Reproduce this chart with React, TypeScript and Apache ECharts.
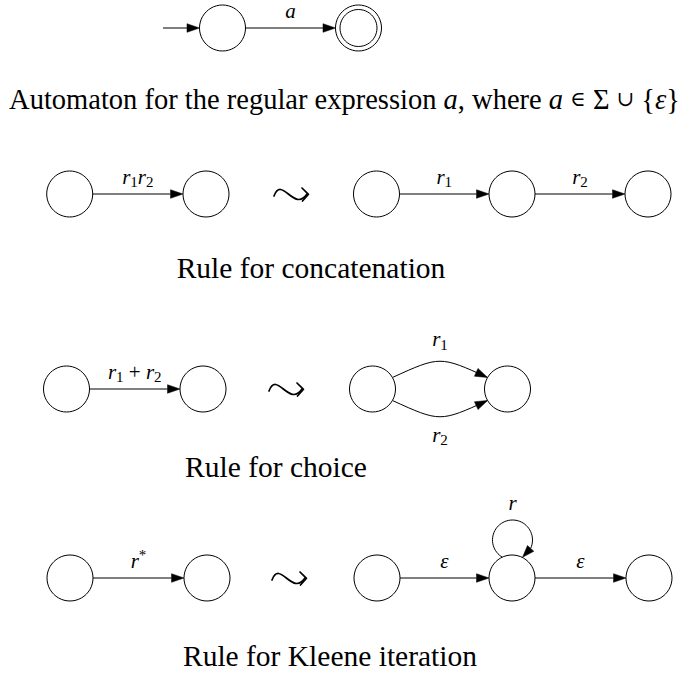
import React, { useEffect, useRef } from 'react';
import * as echarts from 'echarts';

// ---- states (automaton nodes) ----
const stateX = [222.5, 358.5, 69.7, 206, 376.5, 512, 648, 66.5, 203, 372.5, 507.5, 70, 207, 377, 512, 649];
const stateY = [28, 28, 194, 194, 194, 194, 194, 389, 389, 389, 389, 578, 578, 578, 578, 578];
const stateAccepting = [0, 1, 0, 0, 0, 0, 0, 0, 0, 0, 0, 0, 0, 0, 0, 0];

// ---- initial arrows ----
const initialFromX = [163];
const initialTo = [0];

// ---- transitions ----
const edgeFrom = [0, 2, 4, 5, 7, 9, 9, 11, 13, 14, 14];
const edgeTo = [1, 3, 5, 6, 8, 10, 10, 12, 14, 14, 15];
const edgeBend = [0, 0, 0, 0, 0, 1, -1, 0, 0, 0, 0];
const edgeLabels = [
  '{i|a}',
  '{i|r}{s|1}{i|r}{s|2}',
  '{i|r}{s|1}',
  '{i|r}{s|2}',
  '{i|r}{s|1}{n| + }{i|r}{s|2}',
  '{i|r}{s|1}',
  '{i|r}{s|2}',
  '{i|r}{p|*}',
  '{i|ε}',
  '{i|r}',
  '{i|ε}',
];

// ---- "leads to" symbols ----
const leadstoX = [292, 287, 290];
const leadstoY = [194, 389, 578];

// ---- captions ----
const captionTexts = [
  'Automaton for the regular expression {ci|a}, where {ci|a} {m|∈} Σ {m|∪} {{ci|ε}}',
  'Rule for concatenation',
  'Rule for choice',
  'Rule for Kleene iteration',
];
const captionX = [344.5, 311, 276, 330];
const captionBaseline = [109, 278, 477, 666];
const captionSize = [28.5, 29.5, 29.5, 29.5];

const SERIF = '"Liberation Serif", "Times New Roman", "DejaVu Serif", serif';
const R = 23;
const AL = 12.5;
const AW = 4.3;
const INK = '#000';
const LABEL_FS = 21;

const labelRich = {
  i: { fontFamily: SERIF, fontStyle: 'italic', fontSize: LABEL_FS, lineHeight: 26, fill: INK },
  n: { fontFamily: SERIF, fontSize: LABEL_FS, lineHeight: 26, fill: INK },
  s: { fontFamily: SERIF, fontSize: 15, lineHeight: 15, verticalAlign: 'bottom', fill: INK },
  p: { fontFamily: SERIF, fontSize: 15, lineHeight: 15, verticalAlign: 'top', fill: INK },
};

function arrowHead(base: number[], tip: number[]) {
  const dx = tip[0] - base[0];
  const dy = tip[1] - base[1];
  const l = Math.hypot(dx, dy) || 1;
  const ux = dx / l, uy = dy / l;
  const nx = -uy, ny = ux;
  return {
    type: 'polygon',
    shape: {
      points: [
        [tip[0], tip[1]],
        [base[0] + nx * AW, base[1] + ny * AW],
        [base[0] - nx * AW, base[1] - ny * AW],
      ],
    },
    style: { fill: INK, stroke: INK, lineWidth: 0.5 },
  };
}

function labelEl(text: string, x: number, baseline: number) {
  return {
    type: 'text',
    style: {
      text,
      x,
      y: baseline - 0.34 * LABEL_FS,
      align: 'center',
      verticalAlign: 'middle',
      fontFamily: SERIF,
      fontSize: LABEL_FS,
      fill: INK,
      rich: labelRich,
    },
  };
}

const lineStyle = { stroke: INK, lineWidth: 1, fill: 'none' };

export default function App() {
  const ref = useRef<HTMLDivElement>(null);
  useEffect(() => {
    if (!ref.current) return;
    const chart = echarts.init(ref.current, undefined, { renderer: 'svg' });

    const option: any = {
      animation: false,
      backgroundColor: '#fff',
      grid: { left: 0, right: 0, top: 0, bottom: 0 },
      xAxis: { type: 'value', min: 0, max: 688, show: false },
      yAxis: { type: 'value', min: 0, max: 679, inverse: true, show: false },
      series: [
        {
          name: 'initial',
          type: 'custom',
          silent: true,
          z: 2,
          data: initialTo.map((t, i) => [initialFromX[i], stateY[t], i]),
          renderItem: (_p: any, api: any) => {
            const i = api.value(2);
            const t = initialTo[i];
            const s = api.coord([initialFromX[i], stateY[t]]);
            const c = api.coord([stateX[t], stateY[t]]);
            const tip = [c[0] - R, c[1]];
            const base = [tip[0] - AL, tip[1]];
            return {
              type: 'group',
              children: [
                { type: 'line', shape: { x1: s[0], y1: s[1], x2: base[0], y2: base[1] }, style: lineStyle },
                arrowHead(base, tip),
              ],
            };
          },
        },
        {
          name: 'transitions',
          type: 'custom',
          silent: true,
          z: 2,
          data: edgeFrom.map((f, i) => [stateX[f], stateY[f], i]),
          renderItem: (_p: any, api: any) => {
            const i = api.value(2);
            const f = edgeFrom[i], t = edgeTo[i], b = edgeBend[i];
            const p1 = api.coord([stateX[f], stateY[f]]);
            const p2 = api.coord([stateX[t], stateY[t]]);
            const children: any[] = [];
            let lx = 0, lb = 0;
            if (f === t) {
              const lr = 20;
              const lcx = p1[0] + 0.5, lcy = p1[1] - 38;
              const d = p1[1] - lcy;
              const a = (d * d + lr * lr - R * R) / (2 * d);
              const h = Math.sqrt(Math.max(lr * lr - a * a, 0));
              const thL = Math.atan2(a, -h);
              const thR = Math.atan2(a, h) + 2 * Math.PI;
              const thB = thR - (35 * Math.PI) / 180;
              const pts: number[][] = [];
              for (let k = 0; k <= 48; k++) {
                const th = thL + ((thB - thL) * k) / 48;
                pts.push([lcx + lr * Math.cos(th), lcy + lr * Math.sin(th)]);
              }
              children.push({ type: 'polyline', shape: { points: pts }, style: lineStyle });
              const tip = [lcx + lr * Math.cos(thR), lcy + lr * Math.sin(thR)];
              children.push(arrowHead(pts[pts.length - 1], tip));
              lx = lcx;
              lb = lcy - lr - 10;
            } else if (b === 0) {
              const dx = p2[0] - p1[0], dy = p2[1] - p1[1];
              const l = Math.hypot(dx, dy);
              const ux = dx / l, uy = dy / l;
              const st = [p1[0] + ux * R, p1[1] + uy * R];
              const tip = [p2[0] - ux * R, p2[1] - uy * R];
              const base = [tip[0] - ux * AL, tip[1] - uy * AL];
              children.push({ type: 'line', shape: { x1: st[0], y1: st[1], x2: base[0], y2: base[1] }, style: lineStyle });
              children.push(arrowHead(base, tip));
              lx = (st[0] + tip[0]) / 2;
              lb = (st[1] + tip[1]) / 2 - 10;
            } else {
              const ang = (30 * Math.PI) / 180;
              const tng = Math.tan((24.5 * Math.PI) / 180);
              const P0 = [p1[0] + R * Math.cos(ang), p1[1] - b * R * Math.sin(ang)];
              const P3 = [p2[0] - R * Math.cos(ang), p2[1] - b * R * Math.sin(ang)];
              const k = 0.5 * (P3[0] - P0[0]);
              const C1 = [P0[0] + k, P0[1] - b * k * tng];
              const C2 = [P3[0] - k, P3[1] - b * k * tng];
              children.push({
                type: 'bezierCurve',
                shape: { x1: P0[0], y1: P0[1], cpx1: C1[0], cpy1: C1[1], cpx2: C2[0], cpy2: C2[1], x2: P3[0], y2: P3[1] },
                style: lineStyle,
              });
              const dx = P3[0] - C2[0], dy = P3[1] - C2[1];
              const l = Math.hypot(dx, dy);
              const base = [P3[0] - (dx / l) * AL, P3[1] - (dy / l) * AL];
              children.push(arrowHead(base, P3));
              const peakY = (P0[1] + 3 * C1[1] + 3 * C2[1] + P3[1]) / 8;
              lx = (P0[0] + P3[0]) / 2;
              lb = b > 0 ? peakY - 15 : peakY + 25;
            }
            children.push(labelEl(edgeLabels[i], lx, lb));
            return { type: 'group', children };
          },
        },
        {
          name: 'states',
          type: 'custom',
          silent: true,
          z: 3,
          data: stateX.map((x, i) => [x, stateY[i], stateAccepting[i]]),
          renderItem: (_p: any, api: any) => {
            const c = api.coord([api.value(0), api.value(1)]);
            const children: any[] = [
              { type: 'circle', shape: { cx: c[0], cy: c[1], r: R }, style: { fill: '#fff', stroke: INK, lineWidth: 1 } },
            ];
            if (api.value(2)) {
              children.push({ type: 'circle', shape: { cx: c[0], cy: c[1], r: R - 4.5 }, style: { fill: 'none', stroke: INK, lineWidth: 1 } });
            }
            return { type: 'group', children };
          },
        },
        {
          name: 'leadsto',
          type: 'custom',
          silent: true,
          z: 3,
          data: leadstoX.map((x, i) => [x, leadstoY[i]]),
          renderItem: (_p: any, api: any) => {
            const c = api.coord([api.value(0), api.value(1)]);
            const cx = c[0], cy = c[1];
            const st = { stroke: INK, lineWidth: 1.7, fill: 'none', lineCap: 'round', lineJoin: 'round' };
            return {
              type: 'group',
              children: [
                {
                  type: 'bezierCurve',
                  shape: { x1: cx - 18, y1: cy + 2, cpx1: cx - 10, cpy1: cy - 19, cpx2: cx + 2, cpy2: cy + 19, x2: cx + 15, y2: cy },
                  style: st,
                },
                {
                  type: 'polyline',
                  shape: { points: [[cx + 10, cy - 6], [cx + 16.5, cy + 0.3], [cx + 10.5, cy + 7]] },
                  style: st,
                },
              ],
            };
          },
        },
        {
          name: 'captions',
          type: 'custom',
          silent: true,
          z: 4,
          data: captionX.map((x, i) => [x, captionBaseline[i], i]),
          renderItem: (_p: any, api: any) => {
            const i = api.value(2);
            const fs = captionSize[i];
            const c = api.coord([api.value(0), api.value(1)]);
            return {
              type: 'text',
              style: {
                text: captionTexts[i],
                x: c[0],
                y: c[1] - 0.34 * fs,
                align: 'center',
                verticalAlign: 'middle',
                fontFamily: SERIF,
                fontSize: fs,
                lineHeight: 34,
                fill: INK,
                rich: {
                  ci: { fontFamily: SERIF, fontSize: fs, fontStyle: 'italic', lineHeight: 34, fill: INK },
                  m: { fontFamily: '"DejaVu Serif", serif', fontSize: 21, lineHeight: 34, fill: INK },
                },
              },
            };
          },
        },
      ],
    };

    chart.setOption(option);
    return () => chart.dispose();
  }, []);

  return (
    <div
      ref={ref}
      style={{ position: 'absolute', left: 0, top: 0, width: 688, height: 679, background: '#fff' }}
    />
  );
}
